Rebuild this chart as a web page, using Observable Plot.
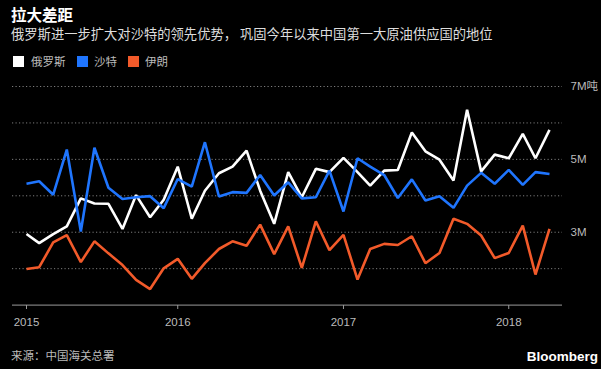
<!DOCTYPE html>
<html><head><meta charset="utf-8">
<script src="https://cdn.jsdelivr.net/npm/d3@7"></script>
<script src="https://cdn.jsdelivr.net/npm/@observablehq/plot@0.6"></script>
<style>
body{margin:0;background:#000;width:601px;height:369px;overflow:hidden;position:relative;font-family:"Liberation Sans","Noto Sans CJK SC",sans-serif;}
.abs{position:absolute;white-space:nowrap;}
#title{left:11px;top:4px;font-size:15.5px;line-height:20px;font-weight:bold;color:#fff;font-family:"Noto Sans CJK SC",sans-serif;}
#subtitle{left:11px;top:26px;font-size:13.3px;line-height:16px;color:#ddd;font-family:"Noto Sans CJK SC",sans-serif;}
.sw{position:absolute;width:11px;height:11px;top:55.5px;}
.lg{position:absolute;top:53px;font-size:11.5px;line-height:16px;color:#bbb;font-family:"Noto Sans CJK SC",sans-serif;white-space:nowrap;}
#chart{position:absolute;left:0;top:76px;}
#source{left:11px;top:347px;font-size:11.5px;line-height:16px;color:#bbb;font-family:"Noto Sans CJK SC",sans-serif;}
#brand{right:3px;top:348px;font-size:13.5px;line-height:18px;font-weight:bold;color:#fff;}
</style></head><body>
<div id="title" class="abs">拉大差距</div>
<div id="subtitle" class="abs">俄罗斯进一步扩大对沙特的领先优势， 巩固今年以来中国第一大原油供应国的地位</div>
<div id="legend"></div>
<div id="chart"></div>
<div id="source" class="abs">来源：中国海关总署</div>
<div id="brand" class="abs">Bloomberg</div>
<script>
const months = ["2015-02","2015-03","2015-04","2015-05","2015-06","2015-07","2015-08","2015-09","2015-10","2015-11","2015-12",
"2016-01","2016-02","2016-03","2016-04","2016-05","2016-06","2016-07","2016-08","2016-09","2016-10","2016-11","2016-12",
"2017-01","2017-02","2017-03","2017-04","2017-05","2017-06","2017-07","2017-08","2017-09","2017-10","2017-11","2017-12",
"2018-01","2018-02","2018-03","2018-04"];
const seriesNames = ["俄罗斯","沙特","伊朗"];
const seriesColors = ["#ffffff","#1f75fe","#f25a2a"];
const russia = [2.95,2.70,2.95,3.16,3.93,3.79,3.78,3.09,4.02,3.41,3.89,4.80,3.37,4.14,4.62,4.80,5.24,4.14,3.23,4.65,3.96,4.74,4.65,5.04,4.65,4.28,4.69,4.71,5.74,5.22,4.99,4.42,6.36,4.67,5.13,5.03,5.70,5.03,5.81];
const saudi = [4.33,4.40,4.03,5.27,3.02,5.32,4.22,3.91,3.96,3.99,3.66,4.46,4.25,5.47,3.98,4.10,4.08,4.57,4.01,4.37,3.93,3.96,4.69,3.57,5.03,4.80,4.57,3.94,4.45,3.87,3.99,3.67,4.28,4.63,4.33,4.71,4.30,4.65,4.60];
const iran = [1.99,2.04,2.72,2.92,2.18,2.75,2.42,2.10,1.69,1.44,2.01,2.27,1.72,2.15,2.54,2.75,2.63,3.21,2.40,3.16,2.02,3.30,2.51,2.93,1.70,2.54,2.68,2.65,2.89,2.15,2.43,3.37,3.23,2.91,2.29,2.43,3.18,1.84,3.09];
const xTickDates = ["2015-02","2016-01","2017-01","2018-01"];
const yGrid = [2,3,4,5,6,7];
const yTicks = [3,5,7];
const yUnit = "吨";

const parse = d3.utcParse("%Y-%m");
const values = [russia, saudi, iran];
const data = [];
seriesNames.forEach((name, s) => values[s].forEach((v, i) => data.push({date: parse(months[i]), value: v, name})));

// legend
const legend = document.getElementById("legend");
const swX = [13, 77, 128], lgX = [31, 94, 145];
seriesNames.forEach((n, i) => {
  const sw = document.createElement("div"); sw.className = "sw"; sw.style.left = swX[i] + "px"; sw.style.background = seriesColors[i]; legend.appendChild(sw);
  const lb = document.createElement("div"); lb.className = "lg"; lb.style.left = lgX[i] + "px"; lb.textContent = n; legend.appendChild(lb);
});

const chart = Plot.plot({
  width: 601, height: 262,
  marginLeft: 12, marginRight: 39, marginTop: 10, marginBottom: 33,
  style: {background: "#000", color: "#bbb", fontSize: "11.5px", fontFamily: "'Liberation Sans', 'Noto Sans CJK SC', sans-serif"},
  x: {type: "utc", domain: [parse(months[0]), parse(months[months.length - 1])], range: [26, 549]},
  y: {domain: [1, 7], range: [228.6, 10]},
  color: {domain: seriesNames, range: seriesColors},
  marks: [
    Plot.gridY(yGrid, {stroke: "#8a8a8a", strokeOpacity: 0.9, strokeDasharray: "1.2,2.3"}),
    Plot.ruleY([1], {stroke: "#9a9a9a", strokeWidth: 1}),
    Plot.axisX(xTickDates.map(parse), {tickFormat: d3.utcFormat("%Y"), tickSize: 4, tickPadding: 8, stroke: "#9a9a9a", label: null}),
    Plot.axisY(yTicks, {anchor: "right", tickSize: 0, tickPadding: 8, label: null, tickFormat: d => d === 7 ? d + "M" + yUnit : d + "M"}),
    Plot.line(data, {x: "date", y: "value", z: "name", stroke: "name", strokeWidth: 2.6, strokeLinejoin: "miter", strokeLinecap: "butt"})
  ]
});
document.getElementById("chart").appendChild(chart);
</script>
</body></html>
